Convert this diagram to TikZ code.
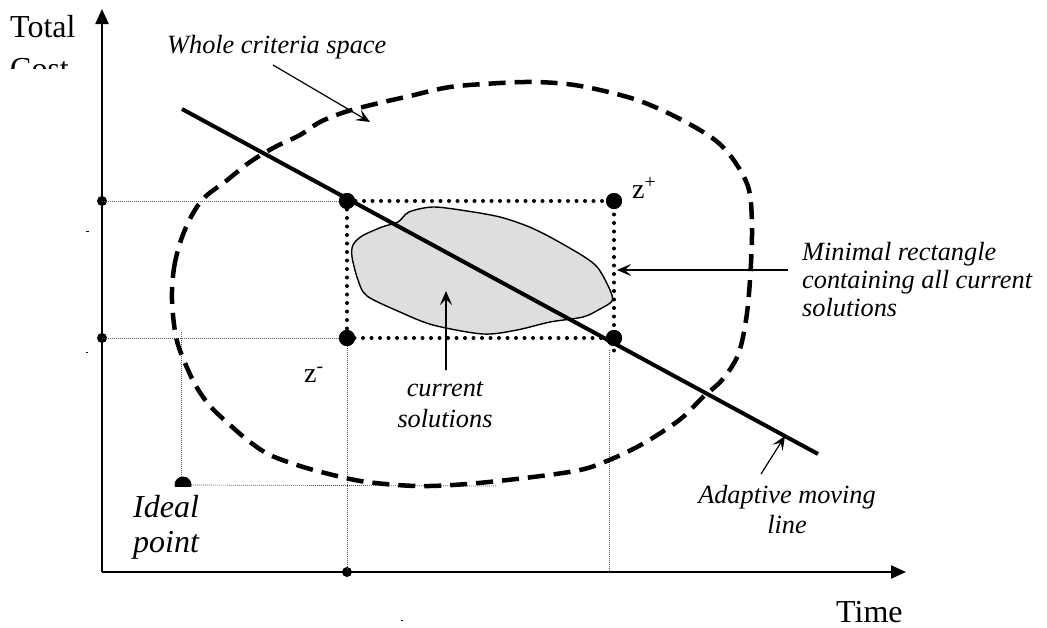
\documentclass[tikz,border=0pt]{standalone}
\usepackage{fontspec}
\setmainfont{Liberation Serif}
\usetikzlibrary{arrows.meta}
\begin{document}
\begin{tikzpicture}[x=1pt,y=-1pt,
  axis/.style={line width=2.2pt,-{Triangle[length=15pt,width=13pt]}},
  guide/.style={draw=black!65,line width=0.7pt,dash pattern=on 1pt off 1pt},
  rectdots/.style={line width=4pt,dash pattern=on 0pt off 8.5pt,line cap=round},
  bigdot/.style={circle,fill=black,inner sep=0pt,minimum size=16pt},
  smalldot/.style={circle,fill=black,inner sep=0pt,minimum size=10pt},
  crit/.style={line width=4.5pt,dash pattern=on 17pt off 9pt},
  pointer/.style={line width=1.2pt,-{Stealth[length=14pt,width=12pt,inset=6pt]}},
  lbl/.style={inner sep=0pt,font=\fontsize{26.3}{28}\selectfont\itshape},
  big/.style={inner sep=0pt,font=\fontsize{32}{40}\selectfont},
  ideal/.style={inner sep=0pt,font=\fontsize{32}{36}\selectfont\itshape},
  zlbl/.style={inner sep=0pt,font=\fontsize{28}{30}\selectfont},
]
\useasboundingbox (0,0) rectangle (1047,627);

% axes
\coordinate (origin) at (102,572);
\coordinate (ytip) at (102,9);
\coordinate (xtip) at (906,572);
\draw[axis] (origin) -- (ytip);
\draw[axis] (origin) -- (xtip);

% axis labels
\node[big,anchor=base west] (total) at (10,37) {Total};
\begin{scope}
  \clip (0,40) rectangle (100,68);
  \node[big,anchor=base west] (cost) at (10,79) {Cost};
\end{scope}
\node[big,anchor=base west] (time) at (836,622) {Time};

% guide dots and coordinates
\node[smalldot] (yhigh) at (102,201) {};
\node[smalldot] (ylow) at (102,338) {};
\node[smalldot] (xleft) at (347,572) {};
\coordinate (xright) at (609,572);
\coordinate (rguide) at (609,350);

% rectangle corners
\node[bigdot] (tl) at (347,201) {};
\node[bigdot] (tr) at (614,201) {};
\node[bigdot] (bl) at (347,338) {};
\node[bigdot] (br) at (614,338) {};
\coordinate (rext) at (614,357);

% ideal point
\coordinate (idealc) at (183,485);
\coordinate (idealtop) at (181,332);
\coordinate (idealright) at (497,486);

% thin guide lines
\draw[guide] (yhigh.center) -- (tl.center);
\draw[guide] (ylow.center) -- (bl.center);
\draw[guide] (bl.center) -- (xleft.center);
\draw[guide] (rguide) -- (xright);
\draw[guide] (idealtop) -- (181,484);
\draw[guide] (idealc) -- (idealright);

% whole criteria space
\draw[crit] plot[smooth cycle,tension=0.55] coordinates {
 (172,300) (174,268) (181,240) (192,215) (205,197) (226,181) (250,162)
 (275,147) (300,135) (320,122) (345,112) (375,104) (410,96) (450,87)
 (500,83) (533,82) (567,84) (600,90) (640,101) (680,119) (715,140)
 (735,162) (749,190) (752,230) (750,280) (746,320) (738,355) (722,380)
 (703,397) (683,417) (662,432) (637,447) (607,461) (580,470) (533,477)
 (467,484) (417,486) (367,482) (333,475) (300,466) (270,455) (250,442)
 (230,425) (210,406) (196,386) (185,363) (176,337)};

% current solutions blob
\filldraw[fill=black!13,line width=1.4pt] plot[smooth cycle,tension=0.5] coordinates {
 (409,212) (433,207) (467,211) (500,217) (527,226) (550,237) (583,256)
 (598,268) (610,290) (612,301) (600,309) (583,317) (550,322) (517,330)
 (483,334) (433,325) (400,312) (367,296) (358,280) (352,257) (353,245)
 (362,236) (382,227) (398,222)};

% minimal rectangle (dotted)
\draw[rectdots] (tl.center) -- (tr.center) -- (rext);
\draw[rectdots] (tl.center) -- (bl.center) -- (br.center);

% adaptive moving line
\coordinate (mlstart) at (182,109);
\coordinate (mlend) at (818,454);
\draw[line width=4pt] (mlstart) -- (mlend);

% dots on top
\node[bigdot] at (tl) {};
\node[bigdot] at (tr) {};
\node[bigdot] at (bl) {};
\node[bigdot] at (br) {};
\begin{scope}
  \clip (170,470) rectangle (200,486);
  \fill (idealc) circle (8.5);
\end{scope}

% labels
\node[lbl,anchor=base west] (whole) at (167,53) {Whole criteria space};
\coordinate (wholefrom) at (273,65);
\coordinate (wholeto) at (370,122);
\draw[pointer] (wholefrom) -- (wholeto);

\node[lbl,anchor=base west] (minA) at (802,260) {Minimal rectangle};
\node[lbl,anchor=base west] (minB) at (802,288) {containing all current};
\node[lbl,anchor=base west] (minC) at (802,316) {solutions};
\coordinate (minfrom) at (788,270);
\coordinate (minto) at (617,270);
\draw[pointer] (minfrom) -- (minto);

\node[lbl,anchor=base] (curA) at (445,396) {current};
\node[lbl,anchor=base] (curB) at (445,427) {solutions};
\coordinate (curfrom) at (446,370);
\coordinate (curto) at (446,291);
\draw[pointer] (curfrom) -- (curto);

\node[lbl,anchor=base] (adaA) at (787,503) {Adaptive moving};
\node[lbl,anchor=base] (adaB) at (787,533) {line};
\coordinate (adafrom) at (761,474);
\coordinate (adato) at (785,436);
\draw[pointer] (adafrom) -- (adato);

\node[ideal,anchor=base west] (idealA) at (133,517) {Ideal};
\node[ideal,anchor=base west] (idealB) at (133,552) {point};

\node[zlbl,anchor=base west] (zplus) at (632,198) {z\textsuperscript{+}};
\node[zlbl,anchor=base west] (zminus) at (304,382) {z\textsuperscript{-}};

% stray tiny marks
\fill (86,230.5) rectangle (89,231.5);
\fill (86,351.5) rectangle (87.5,353);
\fill (401,619.5) rectangle (403,621);
\end{tikzpicture}
\end{document}
